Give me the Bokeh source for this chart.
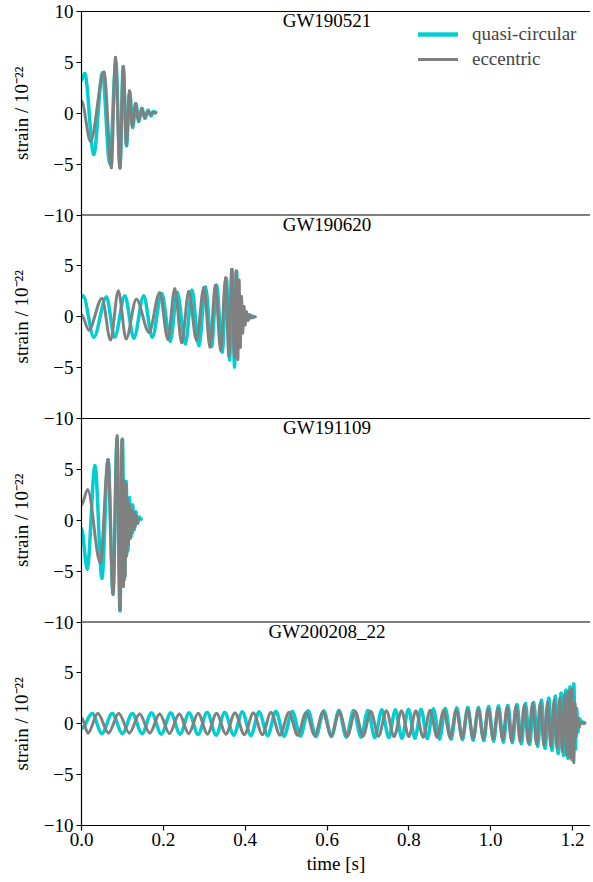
import math
from bokeh.plotting import figure
from bokeh.layouts import row
from bokeh.models import Range1d, FixedTicker, PrintfTickFormatter, LinearAxis, Span, Label
from bokeh.core.properties import value
from bokeh.embed import file_html
from bokeh.resources import INLINE

# ---------------- data (successive extrema) ----------------
events = ["GW190521", "GW190620", "GW191109", "GW200208_22"]

# GW190521
qc_t_190521 = [0.000, 0.008, 0.030, 0.051, 0.069, 0.084, 0.094, 0.102, 0.110, 0.118, 0.125, 0.133, 0.140, 0.148, 0.155, 0.163, 0.170, 0.176, 0.182]
qc_h_190521 = [3.3, 3.9, -4.05, 3.95, -4.9, 5.0, -5.3, 4.6, -3.2, 2.1, -1.4, 0.9, -0.8, 0.5, -0.5, 0.3, -0.25, 0.15, 0.1]
ecc_t_190521 = [0.000, 0.022, 0.055, 0.073, 0.083, 0.094, 0.102, 0.110, 0.117, 0.124, 0.132, 0.139, 0.147, 0.154, 0.162, 0.168, 0.174, 0.181]
ecc_h_190521 = [1.2, -2.75, 4.05, -5.35, 5.5, -5.4, 4.55, -3.1, 2.2, -1.3, 0.95, -0.75, 0.45, -0.4, 0.2, -0.15, 0.1, 0.0]

# GW190620
qc_t_190620 = [0.000, 0.004, 0.030, 0.061, 0.081, 0.106, 0.128, 0.152, 0.173, 0.196, 0.217, 0.234, 0.254, 0.270, 0.287, 0.303, 0.318, 0.330, 0.344, 0.354, 0.362, 0.368, 0.374, 0.379, 0.383, 0.387, 0.391, 0.395, 0.399, 0.404, 0.410, 0.416, 0.421]
qc_h_190620 = [1.9, 2.05, -2.0, 1.95, -2.0, 2.05, -2.08, 2.05, -2.0, 2.28, -2.4, 2.38, -2.66, 2.6, -2.83, 2.93, -2.92, 3.09, -3.47, 3.77, -4.22, 4.65, -4.93, 4.48, -3.0, 2.0, -1.2, 0.8, -0.5, 0.3, -0.15, 0.08, 0.0]
ecc_t_190620 = [0.000, 0.018, 0.050, 0.071, 0.090, 0.109, 0.134, 0.165, 0.191, 0.211, 0.228, 0.245, 0.262, 0.281, 0.299, 0.314, 0.327, 0.340, 0.352, 0.360, 0.367, 0.374, 0.378, 0.382, 0.385, 0.388, 0.391, 0.394, 0.397, 0.400, 0.403, 0.407, 0.411, 0.416, 0.425]
ecc_h_190620 = [0.2, -1.3, 1.8, -2.27, 2.54, -2.17, 1.72, -1.52, 2.37, -2.2, 2.76, -2.55, 2.47, -2.3, 2.87, -2.98, 3.09, -3.3, 3.84, -3.8, 4.65, -3.96, 4.5, -4.2, 3.6, -3.0, 2.0, -1.6, 1.0, -0.8, 0.5, -0.35, 0.2, -0.1, 0.0]

# GW191109
qc_t_191109 = [0.000, 0.014, 0.033, 0.050, 0.065, 0.077, 0.087, 0.094, 0.100, 0.105, 0.109, 0.113, 0.117, 0.121, 0.125, 0.129, 0.133, 0.137, 0.141, 0.146]
qc_h_191109 = [-0.8, -4.78, 5.36, -5.7, 5.95, -7.2, 8.0, -8.9, 7.95, -5.8, 3.8, -3.0, 2.2, -1.6, 1.5, -0.9, 0.8, -0.3, 0.3, 0.1]
ecc_t_191109 = [0.000, 0.015, 0.046, 0.065, 0.077, 0.087, 0.094, 0.099, 0.1025, 0.1045, 0.1065, 0.1085, 0.1105, 0.1125, 0.1145, 0.117, 0.119, 0.122, 0.125, 0.128, 0.131, 0.134, 0.137, 0.140]
ecc_h_191109 = [1.5, 3.0, -4.2, 5.95, -7.3, 8.3, -8.8, 7.9, -6.5, 3.9, -5.5, 3.5, -3.5, 2.0, -2.4, 1.5, -1.8, 1.0, -1.2, 0.8, -0.6, 0.4, -0.2, 0.1]

# GW200208_22
qc_t_200208 = [0.000, 0.026, 0.050, 0.075, 0.100, 0.124, 0.148, 0.171, 0.195, 0.218, 0.241, 0.263, 0.285, 0.307, 0.329, 0.350, 0.372, 0.393, 0.414, 0.434, 0.455, 0.475, 0.495, 0.515, 0.535, 0.554, 0.573, 0.592, 0.611, 0.629, 0.647, 0.665, 0.683, 0.700, 0.717, 0.734, 0.751, 0.767, 0.783, 0.799, 0.815, 0.830, 0.845, 0.860, 0.875, 0.889, 0.903, 0.917, 0.931, 0.944, 0.957, 0.970, 0.983, 0.995, 1.007, 1.019, 1.031, 1.042, 1.053, 1.064, 1.075, 1.085, 1.095, 1.105, 1.115, 1.124, 1.133, 1.142, 1.150, 1.158, 1.165, 1.172, 1.178, 1.184, 1.189, 1.194, 1.198, 1.203, 1.207, 1.210, 1.213, 1.217, 1.222, 1.230]
qc_h_200208 = [-0.5, 1.0, -0.95, 1.0, -0.95, 1.0, -0.95, 1.05, -1.0, 1.05, -1.0, 1.05, -1.05, 1.1, -1.1, 1.1, -1.1, 1.15, -1.15, 1.15, -1.15, 1.2, -1.2, 1.2, -1.2, 1.25, -1.25, 1.25, -1.25, 1.3, -1.3, 1.3, -1.3, 1.3, -1.35, 1.35, -1.35, 1.35, -1.4, 1.4, -1.4, 1.4, -1.45, 1.45, -1.5, 1.5, -1.5, 1.55, -1.55, 1.6, -1.6, 1.6, -1.65, 1.7, -1.7, 1.75, -1.8, 1.8, -1.85, 1.9, -1.95, 2.0, -2.05, 2.1, -2.2, 2.3, -2.4, 2.5, -2.6, 2.7, -2.9, 3.0, -3.1, 3.3, -3.4, 3.6, -3.5, 3.9, -2.5, 1.5, -0.8, 0.5, 0.2, 0.1]
ecc_t_200208 = [0.000, 0.016, 0.040, 0.066, 0.091, 0.117, 0.142, 0.167, 0.191, 0.215, 0.239, 0.262, 0.285, 0.308, 0.330, 0.353, 0.375, 0.398, 0.420, 0.442, 0.463, 0.485, 0.507, 0.528, 0.549, 0.570, 0.590, 0.610, 0.630, 0.650, 0.669, 0.688, 0.707, 0.726, 0.745, 0.764, 0.782, 0.800, 0.817, 0.835, 0.852, 0.869, 0.885, 0.901, 0.916, 0.930, 0.944, 0.957, 0.970, 0.982, 0.994, 1.006, 1.018, 1.029, 1.040, 1.051, 1.062, 1.072, 1.082, 1.092, 1.102, 1.112, 1.121, 1.130, 1.139, 1.147, 1.155, 1.162, 1.169, 1.175, 1.181, 1.186, 1.190, 1.194, 1.198, 1.203, 1.206, 1.209, 1.212, 1.216, 1.221, 1.228]
ecc_h_200208 = [0.6, -0.9, 1.0, -0.9, 1.0, -0.9, 0.95, -0.9, 0.95, -0.95, 0.95, -0.95, 1.0, -1.0, 1.0, -1.0, 1.05, -1.05, 1.05, -1.05, 1.1, -1.1, 1.1, -1.1, 1.1, -1.15, 1.15, -1.15, 1.15, -1.2, 1.2, -1.2, 1.2, -1.2, 1.25, -1.25, 1.25, -1.25, 1.25, -1.3, 1.3, -1.3, 1.3, -1.35, 1.35, -1.35, 1.35, -1.4, 1.4, -1.4, 1.45, -1.45, 1.5, -1.55, 1.6, -1.65, 1.7, -1.75, 1.8, -1.9, 2.0, -2.0, 2.05, -2.1, 2.1, -2.2, 2.3, -2.4, 2.5, -2.7, 2.9, -3.1, 3.2, -3.3, 3.4, -3.8, 2.0, -1.2, 0.6, -0.3, 0.15, 0.0]

y_tick_values = [-10, -5, 0, 5, 10]
y_tick_labels = ["\u221210", "\u22125", "0", "5", "10"]
x_tick_values = [0.0, 0.2, 0.4, 0.6, 0.8, 1.0, 1.2]
y_label = "strain / 10\u207b\u00b2\u00b2"
legend_labels = ["quasi-circular", "eccentric"]

series = [
    (qc_t_190521, qc_h_190521, ecc_t_190521, ecc_h_190521),
    (qc_t_190620, qc_h_190620, ecc_t_190620, ecc_h_190620),
    (qc_t_191109, qc_h_191109, ecc_t_191109, ecc_h_191109),
    (qc_t_200208, qc_h_200208, ecc_t_200208, ecc_h_200208),
]

# ---------------- style / layout ----------------
FONT = "Liberation Serif"
FS = "19px"
CYAN = "#00CED1"
GREY = "#808080"
SPAN = 20.0                     # each panel spans -10..10
offsets = [3 * SPAN, 2 * SPAN, SPAN, 0.0]
TOTAL_H = 882
TOP_B, BOT_B = 11, 57
LAB_W = 36
FRAME_H = TOTAL_H - TOP_B - BOT_B

yr = Range1d(-10, 3 * SPAN + 10)
p = figure(width=554, height=TOTAL_H, output_backend="svg", toolbar_location=None,
           x_range=Range1d(0, 1.2439), y_range=yr,
           min_border_left=45, min_border_top=TOP_B, min_border_right=0, min_border_bottom=BOT_B)
p.outline_line_color = None
p.xgrid.visible = False
p.ygrid.visible = False


def draw(t, h, off, color, width, label):
    """smooth wave through successive extrema: one cubic Bezier per half cycle,
    flat (horizontal) tangents at each extremum"""
    n = min(len(t), len(h))
    t = list(t[:n])
    y = [v + off for v in h[:n]]
    x0, x1, y0, y1 = t[:-1], t[1:], y[:-1], y[1:]
    cx0 = [a + (b - a) / 3.0 for a, b in zip(x0, x1)]
    cx1 = [b - (b - a) / 3.0 for a, b in zip(x0, x1)]
    return p.bezier(x0=x0, y0=y0, x1=x1, y1=y1, cx0=cx0, cy0=y0, cx1=cx1, cy1=y1,
                    line_color=color, line_width=width, line_cap="round", legend_label=label)


for (qt, qh, et, eh), off in zip(series, offsets):
    draw(qt, qh, off, CYAN, 3.5, legend_labels[0])
    draw(et, eh, off, GREY, 3.0, legend_labels[1])

# y axis ticks / labels for the stacked panels
ticks = []
overrides = {}
for off in reversed(offsets):
    for v, lab in zip(y_tick_values, y_tick_labels):
        pos = v + off
        if pos not in ticks:
            ticks.append(pos)
        if v == 10 and pos in overrides:
            continue
        overrides[pos] = lab
ticks.sort()

yax = p.yaxis[0]
yax.ticker = FixedTicker(ticks=ticks)
yax.major_label_overrides = overrides
xax = p.xaxis[0]
xax.ticker = FixedTicker(ticks=x_tick_values)
xax.formatter = PrintfTickFormatter(format="%.1f")
xax.axis_label = "time [s]"

for ax in (xax, yax):
    ax.axis_line_color = "black"
    ax.axis_line_width = 1.2
    ax.major_tick_line_color = "black"
    ax.major_tick_line_width = 1.2
    ax.major_tick_out = 5
    ax.major_tick_in = 0
    ax.minor_tick_line_color = None
    ax.major_label_text_font = FONT
    ax.major_label_text_font_size = FS
    ax.major_label_text_color = "black"
    ax.axis_label_text_font = FONT
    ax.axis_label_text_font_size = FS
    ax.axis_label_text_font_style = "normal"
    ax.axis_label_text_color = "black"
xax.major_label_standoff = 2
xax.axis_label_standoff = 4
yax.major_label_standoff = 3

# top frame line
top = LinearAxis(major_tick_line_color=None, minor_tick_line_color=None, major_tick_out=0, major_tick_in=0,
                 minor_tick_out=0, major_label_text_font_size="0px", major_label_standoff=0,
                 axis_line_color="black", axis_line_width=1.2, ticker=FixedTicker(ticks=[]))
p.add_layout(top, "above")

# panel separators
for off in offsets[1:]:
    p.add_layout(Span(location=off + 10, dimension="width", line_color="black", line_width=1.2))

# panel titles
for name, off in zip(events, offsets):
    p.add_layout(Label(x=0.6, y=off + 9.1, text=name, text_align="center", text_baseline="middle",
                       text_font=FONT, text_font_size=FS, text_color="black"))

lg = p.legend[0]
lg.location = (337, FRAME_H - 59)
lg.border_line_color = None
lg.background_fill_alpha = 0
lg.label_text_font = FONT
lg.label_text_font_size = FS
lg.glyph_width = 40
lg.glyph_height = 20
lg.label_height = 20
lg.label_standoff = 14
lg.spacing = 3
lg.margin = 0
lg.padding = 10

# strip at the left that carries the per-panel y labels
lab = figure(width=LAB_W, height=TOTAL_H, output_backend="svg", toolbar_location=None,
             x_range=Range1d(0, LAB_W), y_range=yr, x_axis_type=None, y_axis_type=None,
             min_border_left=0, min_border_right=0, min_border_top=TOP_B, min_border_bottom=BOT_B)
lab.outline_line_color = None
lab.xgrid.visible = False
lab.ygrid.visible = False
lab.text(x=[21] * len(offsets), y=offsets, text=[y_label] * len(offsets), angle=math.pi / 2,
         text_align="center", text_baseline="middle", text_font=value(FONT),
         text_font_size=value(FS), text_color="black")

layout = row(lab, p)
open("out.html", "w").write(file_html(layout, INLINE))
